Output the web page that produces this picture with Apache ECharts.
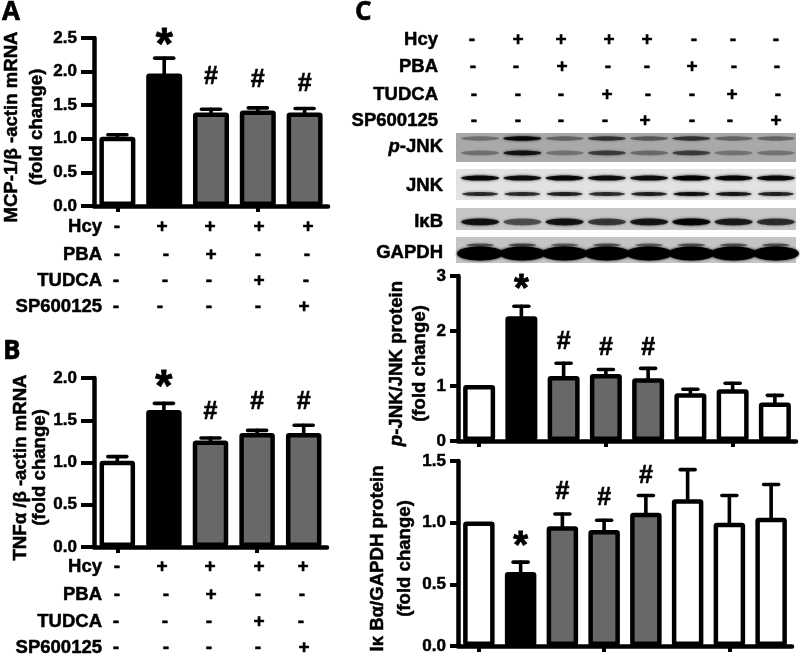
<!DOCTYPE html>
<html><head><meta charset="utf-8">
<style>html,body{margin:0;padding:0;background:#fff}#c{width:800px;height:656px}</style>
<script src="https://cdn.jsdelivr.net/npm/echarts@6/dist/echarts.min.js"></script>
</head><body><div id="c"></div>
<script>
// ---------- data ----------
const groupsShort = ['Control','Hcy','Hcy+PBA','Hcy+TUDCA','Hcy+SP600125'];
const groupsLong = ['Control','Hcy','Hcy+PBA','Hcy+TUDCA','Hcy+SP600125','PBA','TUDCA','SP600125'];

const mcpMean = [1.03,1.97,1.39,1.42,1.39];
const mcpTop  = [1.06,2.2,1.44,1.46,1.45];
const mcpMark = ['', '*','#','#','#'];
const mcpMarkY = [null,2.5,1.92,1.88,1.81];

const tnfMean = [1.02,1.62,1.26,1.35,1.35];
const tnfTop  = [1.07,1.7,1.29,1.38,1.44];
const tnfMark = ['', '*','#','#','#'];
const tnfMarkY = [null,1.98,1.6,1.71,1.71];

const jnkMean = [1.02,2.27,1.18,1.22,1.14,0.87,0.94,0.70];
const jnkTop  = [null,2.45,1.415,1.30,1.32,0.94,1.05,0.83];
const jnkMark = ['', '*','#','#','#','','',''];
const jnkMarkY = [null,2.89,1.79,1.68,1.68,null,null,null];

const ikbMean = [1.01,0.6,0.97,0.94,1.08,1.19,1.0,1.04];
const ikbTop  = [null,0.68,1.07,1.02,1.22,1.43,1.22,1.31];
const ikbMark = ['', '*','#','#','#','','',''];
const ikbMarkY = [null,0.86,1.25,1.2,1.38,null,null,null];

const fillShort = ['open','solid','gray','gray','gray'];
const fillLong = ['open','solid','gray','gray','gray','open','open','open'];

const rowNames = ['Hcy','PBA','TUDCA','SP600125'];
const signsShort = [['-','+','+','+','+'],['-','-','+','-','-'],['-','-','-','+','-'],['-','-','-','-','+']];
const signsLong = [
 ['-','+','+','+','+','-','-','-'],
 ['-','-','+','-','-','+','-','-'],
 ['-','-','-','+','-','-','+','-'],
 ['-','-','-','-','+','-','-','+']];

// blot band strengths per lane (0..1)
const pjnkUpper = [.3,.9,.35,.6,.4,.6,.35,.35];
const pjnkLower = [.3,.8,.28,.55,.32,.55,.28,.28];
const jnkUpper  = [.9,.85,.9,.85,.85,.95,.9,.9];
const jnkLower  = [.7,.7,.75,.7,.75,.85,.8,.75];
const ikbBand   = [.8,.5,.8,.6,.78,.9,.75,.65];
const gapdhBand = [1,1,1,1,1,1,1,1];
const gapdhFaint= [.5,.55,.45,.5,.45,.5,.5,.5];

// ---------- layout / style ----------
const FONT = '"Liberation Sans", Arial, sans-serif';
const FILLS = {open:'#ffffff', solid:'#000000', gray:'#686868'};
const xA = [[117,162,210,259,308],[117,166,211,258,307],[116,165,209,259,306],[116,160,209,258,304]];
const xB = [[117,162,210,259,303],[117,166,211,258,302],[116,165,209,259,301],[116,166,209,258,304]];
const xC = [[472,518,561,609,647,694,733,776],[473,516,562,608,647,692,734,777],[474,518,561,607,648,692,732,778],[474,518,561,605,645,692,730,776]];
const panels = [
 {cats:groupsShort,mean:mcpMean,top:mcpTop,mark:mcpMark,markY:mcpMarkY,fills:fillShort,
  left:94,width:234,top0:38,height:168,max:2.5,step:.5,digits:1,tick:13,margin:17,barW:36,cap:19,star:44,
  name:'MCP-1/β -actin mRNA\n(fold change)',gap:42,lh:25,pad:[0,10,0,0]},
 {cats:groupsShort,mean:tnfMean,top:tnfTop,mark:tnfMark,markY:tnfMarkY,fills:fillShort,
  left:94,width:233,top0:378,height:169,max:2,step:.5,digits:1,tick:13,margin:17,barW:35.5,cap:19,star:44,
  name:'TNFα /β -actin mRNA\n(fold change)',gap:44,lh:19,pad:[0,10,0,0]},
 {cats:groupsLong,mean:jnkMean,top:jnkTop,mark:jnkMark,markY:jnkMarkY,fills:fillLong,
  left:458,width:338,top0:276,height:165,max:3,step:1,digits:0,tick:8,margin:12,barW:32,cap:15,star:38,
  name:'{i|p}-JNK/JNK protein\n(fold change)',gap:27,lh:23,pad:[0,10,0,0]},
 {cats:groupsLong,mean:ikbMean,top:ikbTop,mark:ikbMark,markY:ikbMarkY,fills:fillLong,
  left:458,width:334,top0:461,height:185,max:1.5,step:.5,digits:1,tick:8,margin:12,barW:31.5,cap:15,star:38,
  name:'Iκ Bα/GAPDH protein\n(fold change)',gap:38,lh:27,pad:[0,10,0,0]}
];
const blotRects = [
 {y:133,h:29,fill:'#a9a9a9'},{y:169,h:31,fill:'#e2e2e2'},{y:208,h:22,fill:'#c6c6c6'},{y:237,h:26,fill:'#c4c4c4'}];
const blotBands = [
 {vals:pjnkUpper,y:138.5,rx:19,ry:2.2},{vals:pjnkLower,y:153,rx:19,ry:2.4},
 {vals:jnkUpper,y:178,rx:19,ry:2.6},{vals:jnkLower,y:194,rx:18,ry:2},
 {vals:ikbBand,y:222,rx:19,ry:3.4},
 {vals:gapdhFaint,y:245,rx:14,ry:1.5},{vals:gapdhBand,y:253.5,rx:23,ry:7}];
const blotLabels = [
 {rich:'{i|p}-JNK',y:147},{rich:'JNK',y:186},{rich:'IκB',y:222},{rich:'GAPDH',y:253}];

const HEAVY = {textBorderColor:'#000',textBorderWidth:0.5};
const grids=[],xAxes=[],yAxes=[],series=[],graphics=[];
panels.forEach((p,i)=>{
  grids.push({left:p.left,width:p.width,top:p.top0,height:p.height,outerBoundsMode:'none'});
  xAxes.push({type:'category',gridIndex:i,data:p.cats,
    axisLine:{show:true,lineStyle:{color:'#000',width:4.5}},
    axisTick:{show:true,alignWithLabel:true,length:6,lineStyle:{color:'#000',width:4}},
    axisLabel:{show:false},splitLine:{show:false}});
  yAxes.push({type:'value',gridIndex:i,min:0,max:p.max,interval:p.step,
    name:p.name,nameLocation:'middle',nameRotate:90,nameGap:p.gap,
    nameTextStyle:{color:'#000',fontFamily:FONT,fontWeight:'bold',fontSize:18.6,lineHeight:p.lh,padding:p.pad,align:'center',...HEAVY,
      rich:{i:{fontStyle:'italic',fontWeight:'bold',fontFamily:FONT,fontSize:18.6,color:'#000',...HEAVY}}},
    axisLine:{show:true,lineStyle:{color:'#000',width:4.5}},
    axisTick:{show:true,length:p.tick,lineStyle:{color:'#000',width:4}},
    axisLabel:{color:'#000',fontFamily:FONT,fontWeight:'bold',fontSize:17,margin:p.margin,...HEAVY,formatter:v=>v.toFixed(p.digits)},
    splitLine:{show:false}});
  series.push({type:'bar',xAxisIndex:i,yAxisIndex:i,barWidth:p.barW,z:2,
    data:p.mean.map((v,k)=>({value:v,itemStyle:{color:FILLS[p.fills[k]],borderColor:'#000',borderWidth:4.5,borderRadius:1}}))});
  series.push({type:'custom',xAxisIndex:i,yAxisIndex:i,z:1,clip:false,
    encode:{x:0,y:[1,2]},
    data:p.mean.map((v,k)=>[k,v,p.top[k]]).filter(d=>d[2]!=null),
    renderItem:(params,api)=>{
      const a=api.coord([api.value(0),api.value(1)]),b=api.coord([api.value(0),api.value(2)]);
      const st={stroke:'#000',lineWidth:3.6,lineCap:'round'};
      return {type:'group',children:[
        {type:'line',shape:{x1:a[0],y1:a[1],x2:b[0],y2:b[1]},style:st},
        {type:'line',shape:{x1:b[0]-p.cap/2,y1:b[1],x2:b[0]+p.cap/2,y2:b[1]},style:st}]};
    }});
  // significance marks
  const marks=p.mark.map((m,k)=>[k,p.markY[k],m]).filter(d=>d[1]!=null);
  series.push({type:'custom',xAxisIndex:i,yAxisIndex:i,z:5,clip:false,silent:true,
    encode:{x:0,y:1},
    data:marks.map(d=>[d[0],d[1]]),
    renderItem:(params,api)=>{
      const c=api.coord([api.value(0),api.value(1)]);
      const m=marks[params.dataIndex][2],star=m==='*';
      return {type:'text',x:c[0],y:c[1]+(star?p.star*0.21:0),
        style:{text:m,fill:'#000',align:'center',verticalAlign:'middle',
          font:`bold ${star?p.star:25}px ${FONT}`,stroke:'#000',lineWidth:star?0.8:0.6}};
    }});
});

// blot lanes: hidden grid
const bi=panels.length;
grids.push({left:459,width:338,top:0,height:656,outerBoundsMode:'none'});
xAxes.push({type:'category',gridIndex:bi,data:groupsLong,show:false});
yAxes.push({type:'value',gridIndex:bi,min:0,max:656,inverse:true,show:false});
blotRects.forEach(r=>graphics.push({type:'rect',z:0,shape:{x:456,y:r.y,width:340,height:r.h},style:{fill:r.fill}}));
blotBands.forEach(b=>{
  series.push({type:'custom',xAxisIndex:bi,yAxisIndex:bi,z:3,clip:false,silent:true,
    encode:{x:0,y:1},
    data:b.vals.map((v,k)=>[k,b.y,v]),
    renderItem:(params,api)=>{
      const c=api.coord([api.value(0),api.value(1)]),v=api.value(2);
      const col=`rgba(0,0,0,${v})`;
      return {type:'ellipse',shape:{cx:c[0],cy:c[1],rx:b.rx,ry:b.ry},
        style:{fill:col,shadowColor:col,shadowBlur:3}};
    }});
});

// treatment rows
function rows(ys,xs,signs,right){
  rowNames.forEach((n,r)=>{
    graphics.push({type:'text',z:10,x:right,y:ys[r],style:{text:n,fill:'#000',stroke:'#000',lineWidth:.5,font:`bold 18.5px ${FONT}`,align:'right',verticalAlign:'middle'}});
    signs[r].forEach((s,k)=>graphics.push({type:'text',z:10,x:xs[r][k],y:ys[r],style:{text:s,fill:'#000',stroke:'#000',lineWidth:.6,font:`bold 19px ${FONT}`,align:'center',verticalAlign:'middle'}}));
  });
}
rows([227,255,281,307],xA,signsShort,102);
rows([567,595,622,648],xB,signsShort,102);
rows([40,67,95,121],xC,signsLong,438);
blotLabels.forEach(l=>{
  graphics.push({type:'text',z:10,x:443,y:l.y,style:{text:l.rich,fill:'#000',stroke:'#000',lineWidth:.5,font:`bold 18.5px ${FONT}`,align:'right',verticalAlign:'middle',
    rich:{i:{fontStyle:'italic',fontWeight:'bold',fontFamily:FONT,fontSize:18.5,fill:'#000',stroke:'#000',lineWidth:.5}}}});
});
// panel letters
[['A',2,0],['B',3,339],['C',355,0]].forEach(t=>graphics.push({type:'text',z:10,x:t[1],y:t[2],
  style:{text:t[0],fill:'#000',stroke:'#000',lineWidth:.6,font:`bold 26px "Open Sans", ${FONT}`}}));

const chart=echarts.init(document.getElementById('c'),null,{renderer:'canvas'});
chart.setOption({animation:false,backgroundColor:'#fff',grid:grids,xAxis:xAxes,yAxis:yAxes,series,graphic:{elements:graphics}});
</script></body></html>
